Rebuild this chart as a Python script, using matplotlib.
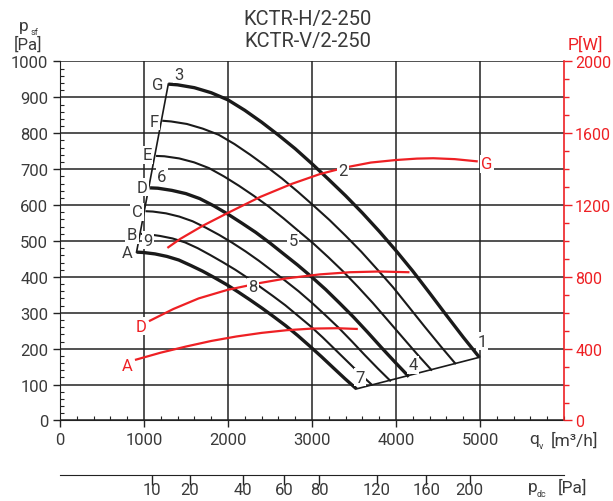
import matplotlib.pyplot as plt
import numpy as np

plt.rcParams['font.family'] = ['Roboto', 'DejaVu Sans']
TXT = '#3a3a3a'
RED = '#ee2024'

# fan curves (q in m3/h, p_sf in Pa), from A (lowest) to G (highest)
fan_names = ['A', 'B', 'C', 'D', 'E', 'F', 'G']
fan_q = [
    [911, 990, 1131, 1273, 1414, 1555, 1697, 1838, 1980, 2121, 2262, 2404, 2545, 2687, 2828, 2969, 3111, 3252, 3394, 3529],
    [960, 1043, 1192, 1341, 1490, 1639, 1788, 1937, 2086, 2235, 2384, 2533, 2682, 2831, 2980, 3129, 3278, 3427, 3576, 3719],
    [1017, 1105, 1262, 1420, 1578, 1736, 1894, 2051, 2209, 2367, 2525, 2683, 2840, 2998, 3156, 3314, 3472, 3629, 3787, 3939],
    [1072, 1165, 1331, 1498, 1664, 1830, 1997, 2163, 2330, 2496, 2662, 2829, 2995, 3162, 3328, 3494, 3661, 3827, 3994, 4153],
    [1143, 1242, 1419, 1597, 1774, 1951, 2129, 2306, 2484, 2661, 2838, 3016, 3193, 3371, 3548, 3725, 3903, 4080, 4258, 4428],
    [1217, 1322, 1510, 1699, 1888, 2077, 2266, 2454, 2643, 2832, 3021, 3210, 3398, 3587, 3776, 3965, 4154, 4342, 4531, 4712],
    [1289, 1400, 1600, 1800, 2000, 2200, 2400, 2600, 2800, 3000, 3200, 3400, 3600, 3800, 4000, 4200, 4400, 4600, 4800, 4992],
]
fan_p = [
    [469, 468, 464, 457, 447, 432, 416, 398, 379, 358, 336, 313, 289, 264, 237, 208, 178, 147, 116, 88],
    [520, 519, 514, 507, 496, 480, 461, 441, 420, 397, 372, 347, 321, 292, 263, 231, 197, 163, 129, 98],
    [583, 582, 577, 568, 555, 537, 517, 495, 471, 445, 417, 389, 360, 328, 294, 259, 221, 182, 144, 109],
    [648, 647, 641, 632, 618, 598, 575, 550, 524, 495, 464, 433, 400, 365, 327, 288, 246, 203, 161, 122],
    [737, 736, 730, 719, 703, 680, 654, 626, 596, 563, 528, 493, 455, 415, 372, 327, 279, 231, 183, 139],
    [835, 833, 826, 813, 796, 770, 740, 708, 674, 637, 598, 558, 515, 470, 421, 371, 316, 261, 207, 157],
    [937, 935, 927, 913, 893, 864, 831, 795, 757, 715, 671, 626, 578, 527, 473, 416, 355, 293, 232, 176],
]
fan_lw = [2.4, 1.5, 1.5, 2.4, 1.5, 1.5, 2.4]

# power curves (q in m3/h, P in W)
pw_names = ['A', 'D', 'G']
pw_q = [
    [905, 1200, 1500, 1800, 2100, 2400, 2700, 3000, 3300, 3532],
    [1071, 1349, 1650, 1996, 2381, 2700, 3095, 3452, 3800, 4147],
    [1289, 1429, 1700, 1996, 2381, 2758, 3095, 3400, 3700, 3996, 4250, 4444, 4700, 4960],
]
pw_P = [
    [339, 378, 412, 443, 468, 488, 503, 512, 514, 510],
    [556, 621, 680, 728, 766, 792, 814, 826, 830, 826],
    [965, 1011, 1085, 1156, 1245, 1318, 1373, 1410, 1437, 1451, 1459, 1461, 1456, 1444],
]
pw_label_pos = [(798, 304), (964, 526), (5083, 1429)]

fan_label_pos = [(798, 467), (857, 517), (917, 581), (976, 650),
                 (1036, 740), (1119, 834), (1167, 937)]
num_labels = ['1', '2', '3', '4', '5', '6', '7', '8', '9']
num_label_pos = [(5024, 221), (3369, 695), (1417, 965), (4202, 155), (2774, 500),
                 (1214, 681), (3571, 121), (2298, 372), (1048, 502)]

pdc_ticks = [10, 20, 40, 60, 80, 120, 160, 200]
pdc_pos = [1090, 1545, 2180, 2670, 3085, 3775, 4360, 4875]

fig = plt.figure(figsize=(6.13, 5.02), dpi=100)
ax = fig.add_axes([0.0979, 0.1604, 0.8222, 0.7151])
ax.set_xlim(0, 6000)
ax.set_ylim(0, 1000)
ax.set_xticks(np.arange(0, 6000, 1000))
ax.set_yticks(np.arange(0, 1001, 100))
ax.set_xticks(np.arange(0, 6001, 200), minor=True)
ax.set_yticks(np.arange(0, 1001, 20), minor=True)
ax.grid(True, which='major', color='#222222', lw=1.1)
ax.tick_params(which='major', direction='out', length=5, width=1, colors='#222222',
               labelcolor=TXT, labelsize=12)
ax.tick_params(which='minor', direction='in', length=3, width=0.8, colors='#222222')
for s in ['top', 'right']:
    ax.spines[s].set_visible(False)
ax.spines['left'].set_color('#222222')
ax.spines['bottom'].set_color('#222222')

box = dict(facecolor='white', edgecolor='none', pad=1.0)

for q, p, lw in zip(fan_q, fan_p, fan_lw):
    ax.plot(q, p, color='#1a1a1a', lw=lw, solid_capstyle='butt', solid_joinstyle='round', zorder=3)
# connecting lines at both ends of the fan curves
ax.plot([fan_q[0][0], fan_q[-1][0]], [fan_p[0][0], fan_p[-1][0]], color='#1a1a1a', lw=1.2, zorder=3)
ax.plot([fan_q[0][-1], fan_q[-1][-1]], [fan_p[0][-1], fan_p[-1][-1]], color='#1a1a1a', lw=1.2, zorder=3)

for name, (x, y) in zip(fan_names, fan_label_pos):
    ax.text(x, y, name, color=TXT, fontsize=12, ha='center', va='center', bbox=box, zorder=5)
for name, (x, y) in zip(num_labels, num_label_pos):
    if name not in ('2', '8'):
        ax.text(x, y, name, color=TXT, fontsize=12, ha='center', va='center', bbox=box, zorder=5)

ax2 = ax.twinx()
ax2.set_ylim(0, 2000)
ax2.set_yticks(np.arange(0, 2001, 400))
ax2.set_yticks(np.arange(0, 2001, 100), minor=True)
ax2.tick_params(which='major', direction='out', length=6, width=1, colors=RED, labelsize=11.5, pad=2)
ax2.tick_params(which='minor', direction='out', length=3.5, width=1, colors=RED)
for s in ['top', 'left', 'bottom']:
    ax2.spines[s].set_visible(False)
ax2.spines['right'].set_color(RED)
ax2.spines['right'].set_linewidth(1.2)
for q, P in zip(pw_q, pw_P):
    ax2.plot(q, P, color=RED, lw=1.6, solid_joinstyle='round', zorder=4)
for name, (x, y) in zip(pw_names, pw_label_pos):
    ax2.text(x, y, name, color=RED, fontsize=12, ha='center', va='center', bbox=box, zorder=5)
for name, (x, y) in zip(num_labels, num_label_pos):
    if name in ('2', '8'):
        ax2.text(x, y * 2, name, color=TXT, fontsize=12, ha='center', va='center', bbox=box, zorder=6)

# secondary dynamic pressure scale
ax3 = fig.add_axes([0.0979, 1 - 476 / 502, 0.8222, 0.0001])
ax3.set_xlim(0, 6000)
ax3.set_yticks([])
ax3.set_xticks(pdc_pos)
ax3.set_xticklabels([str(v) for v in pdc_ticks])
for s in ['left', 'right', 'bottom']:
    ax3.spines[s].set_visible(False)
ax3.spines['top'].set_color('#222222')
ax3.xaxis.set_ticks_position('top')
ax3.tick_params(axis='x', direction='in', length=7, width=1, colors='#222222',
                labelcolor=TXT, labelsize=12, labeltop=False, labelbottom=True, pad=5)
ax3.patch.set_visible(False)

fig.text(0.5025, 1 - 19 / 502, 'KCTR-H/2-250', ha='center', va='center', fontsize=14.5, color=TXT)
fig.text(0.5025, 1 - 41 / 502, 'KCTR-V/2-250', ha='center', va='center', fontsize=14.5, color=TXT)
fig.text(19 / 613, 1 - 26 / 502, 'p', ha='left', va='center', fontsize=12.5, color=TXT)
fig.text(30.5 / 613, 1 - 33 / 502, 'sf', ha='left', va='center', fontsize=6.5, color=TXT)
fig.text(28 / 613, 1 - 45 / 502, '[Pa]', ha='center', va='center', fontsize=12, color=TXT)
fig.text(585 / 613, 1 - 45 / 502, 'P[W]', ha='center', va='center', fontsize=12.5, color=RED)
fig.text(529 / 613, 1 - 440 / 502, 'q', ha='left', va='center', fontsize=12.5, color=TXT)
fig.text(539 / 613, 1 - 447 / 502, 'v', ha='left', va='center', fontsize=6.5, color=TXT)
fig.text(551 / 613, 1 - 441 / 502, '[m³/h]', ha='left', va='center', fontsize=12.5, color=TXT)
fig.text(528 / 613, 1 - 488 / 502, 'p', ha='left', va='center', fontsize=12.5, color=TXT)
fig.text(537 / 613, 1 - 495 / 502, 'dc', ha='left', va='center', fontsize=6.5, color=TXT)
fig.text(558 / 613, 1 - 488 / 502, '[Pa]', ha='left', va='center', fontsize=12.5, color=TXT)

fig.savefig('out.png', dpi=100)
